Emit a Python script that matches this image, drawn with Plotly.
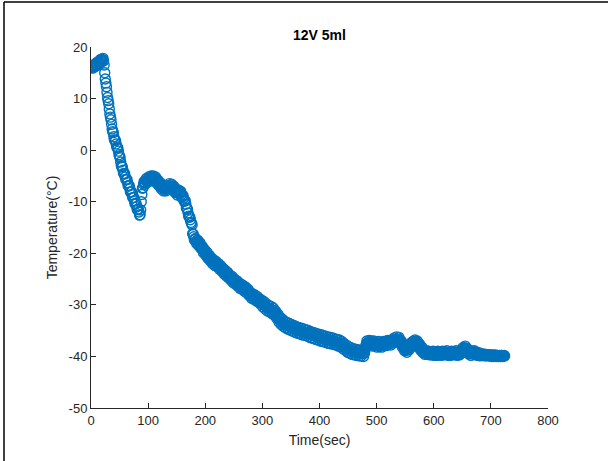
import plotly.graph_objects as go

# readings at even seconds
time_even = list(range(0, 726, 2))
temp_even = [
    # 0-22
    16.0, 16.2, 16.1, 16.4, 16.6, 16.5, 16.8, 17.0, 17.2, 17.4, 17.6, 17.3,
    # 24-86
    15.0, 13.0, 11.2, 9.6, 8.0, 6.4, 5.0, 3.6, 2.6, 1.9, 1.2, 0.5, -0.2, -1.2,
    -2.3, -3.2, -3.9, -4.6, -5.2, -5.7, -6.3, -6.9, -7.5, -8.1, -8.6, -9.2,
    -9.8, -10.4, -11.0, -11.5, -12.0, -12.5,
    # 88-176
    -10.0, -7.4, -6.6, -6.3, -6.0, -5.9, -5.7, -5.6, -5.5, -5.4, -5.5, -5.4,
    -5.6, -5.8, -6.1, -6.3, -6.6, -6.9, -7.1, -7.3, -7.5, -7.6, -7.4, -7.2,
    -7.0, -6.9, -7.1, -7.0, -7.3, -7.6, -7.9, -8.2, -8.3, -8.0, -8.2, -8.6,
    -9.0, -9.3, -9.8, -10.5, -11.3, -12.2, -12.9, -13.5, -14.2,
    # 178-208
    -16.2, -16.8, -17.3, -17.6, -17.8, -18.0, -18.3, -18.5, -18.9, -19.3,
    -19.6, -19.9, -20.1, -20.4, -20.7, -21.0,
    # 210-300
    -21.2, -21.4, -21.6, -21.8, -22.0, -22.1, -22.3, -22.5, -22.7, -22.9,
    -23.2, -23.4, -23.6, -23.8, -24.0, -24.2, -24.5, -24.6, -24.8, -25.1,
    -25.3, -25.5, -25.6, -25.8, -26.0, -26.2, -26.4, -26.5, -26.6, -26.8,
    -27.0, -27.1, -27.3, -27.6, -27.9, -28.1, -28.3, -28.4, -28.5, -28.6,
    -28.8, -28.9, -29.1, -29.3, -29.5, -29.7,
    # 302-400
    -29.9, -30.1, -30.3, -30.5, -30.6, -30.7, -30.8, -31.0, -31.1, -31.3,
    -31.6, -31.9, -32.2, -32.5, -32.8, -33.1, -33.3, -33.5, -33.7, -33.8,
    -33.9, -34.0, -34.1, -34.2, -34.3, -34.4, -34.5, -34.6, -34.7, -34.8,
    -34.9, -35.0, -35.0, -35.1, -35.2, -35.2, -35.3, -35.4, -35.4, -35.5,
    -35.6, -35.7, -35.8, -35.9, -35.9, -36.0, -36.1, -36.2, -36.2, -36.3,
    # 402-482
    -36.4, -36.4, -36.5, -36.6, -36.6, -36.7, -36.8, -36.8, -36.9, -36.9,
    -37.0, -37.0, -37.1, -37.2, -37.2, -37.3, -37.4, -37.4, -37.6, -37.8,
    -38.0, -38.1, -38.3, -38.5, -38.6, -38.7, -38.8, -38.9, -39.0, -39.1,
    -39.1, -39.2, -39.2, -39.3, -39.3, -39.3, -39.4, -39.4, -39.4, -38.5,
    -37.6,
    # 484-582
    -37.4, -37.3, -37.5, -37.3, -37.6, -37.5, -37.4, -37.6, -37.8, -37.6,
    -37.5, -37.7, -37.9, -37.6, -37.4, -37.5, -37.6, -37.4, -37.3, -37.2,
    -37.4, -37.3, -37.1, -36.9, -36.8, -36.7, -36.6, -36.7, -36.8, -37.2,
    -37.6, -38.0, -38.3, -38.6, -38.8, -38.7, -38.4, -38.1, -37.8, -37.6,
    -37.4, -37.2, -37.1, -37.3, -37.6, -37.9, -38.2, -38.5, -38.8, -39.0,
    # 584-682
    -39.2, -39.3, -39.2, -39.4, -39.3, -39.4, -39.5, -39.3, -39.4, -39.5,
    -39.6, -39.4, -39.3, -39.5, -39.6, -39.4, -39.3, -39.5, -39.4, -39.2,
    -39.4, -39.5, -39.6, -39.4, -39.3, -39.5, -39.4, -39.2, -39.3, -39.6,
    -39.5, -39.3, -39.1, -38.8, -38.5, -38.3, -38.4, -38.7, -39.0, -39.3,
    -39.5, -39.4, -39.3, -39.1, -39.3, -39.5, -39.6, -39.5, -39.6, -39.7,
    # 684-724
    -39.7, -39.6, -39.7, -39.8, -39.7, -39.8, -39.8, -39.7, -39.8, -39.8,
    -39.9, -39.8, -39.8, -39.9, -39.8, -39.9, -39.9, -39.8, -39.9, -39.9,
    -39.9,
]

# readings at odd seconds (the other side of the scatter band)
time_odd = list(range(1, 724, 2))
temp_odd = [
    # 1-23
    16.3, 15.9, 16.5, 16.2, 16.9, 16.4, 17.2, 16.8, 17.6, 17.2, 17.8, 16.5,
    # 25-93
    13.8, 12.3, 10.2, 9.0, 7.0, 5.9, 4.1, 3.4, 2.0, 1.8,
    0.6, 0.4, -0.9, -1.5, -3.0, -3.3, -4.5, -4.6, -5.7, -5.7,
    -6.9, -6.9, -8.1, -8.1, -9.2, -9.2, -10.4, -10.4, -11.5, -11.5,
    -12.6, -11.6, -8.6, -7.3, -6.1,
    # 95-177
    -6.6, -5.5, -6.2, -5.2, -6.0, -5.0, -5.9, -5.0, -5.9, -5.2,
    -6.4, -5.8, -6.9, -6.3, -7.5, -6.8, -7.9, -7.1, -7.9, -6.9,
    -7.5, -6.5, -7.4, -6.6, -7.6, -7.0, -8.2, -7.6, -8.7, -7.7,
    -8.5, -8.0, -9.2, -8.8, -9.9, -9.8, -11.2, -11.5, -12.8, -13.0,
    -14.0, -14.5,
    # 179-209
    -16.3, -17.4, -17.1, -18.1, -17.5, -18.6, -18.0, -19.1, -18.7, -19.9,
    -19.3, -20.4, -19.8, -21.0, -20.4, -21.5,
    # 211-299
    -20.9, -22.0, -21.3, -22.4, -21.6, -22.6, -22.0, -23.1, -22.4, -23.5,
    -22.9, -24.0, -23.3, -24.4, -23.7, -24.8, -24.2, -25.2, -24.5, -25.7,
    -25.0, -26.0, -25.3, -26.4, -25.7, -26.8, -26.0, -27.0, -26.3, -27.4,
    -26.6, -27.7, -27.0, -28.2, -27.6, -28.7, -27.9, -28.9, -28.1, -29.2,
    -28.4, -29.5, -28.8, -29.9, -29.1,
    # 301-399
    -30.4, -29.4, -30.8, -29.8, -31.2, -30.1, -31.4, -30.3, -31.7, -30.6,
    -32.0, -31.2, -32.6, -31.8, -33.3, -32.4, -33.8, -32.8, -34.2, -33.2,
    -34.5, -33.4, -34.7, -33.6, -34.9, -33.8, -35.1, -34.0, -35.3, -34.2,
    -35.5, -34.4, -35.6, -34.5, -35.8, -34.6, -35.9, -34.8, -36.0, -34.9,
    -36.2, -35.1, -36.4, -35.3, -36.5, -35.4, -36.7, -35.6, -36.8, -35.7,
    # 401-481
    -37.0, -35.8, -37.1, -36.0, -37.2, -36.1, -37.4, -36.2, -37.5, -36.3,
    -37.6, -36.4, -37.7, -36.6, -37.8, -36.7, -38.0, -36.8, -38.1, -37.1,
    -38.5, -37.5, -38.8, -37.8, -39.2, -38.1, -39.4, -38.3, -39.6, -38.5,
    -39.7, -38.6, -39.8, -38.7, -39.9, -38.8, -39.9, -38.9, -40.0, -39.3,
    -38.0,
    # 483-581
    -37.0, -37.8, -36.9, -37.8, -37.0, -38.0, -37.0, -37.9, -37.3, -38.2,
    -37.1, -38.1, -37.4, -38.2, -37.1, -37.9, -37.1, -37.9, -36.9, -37.7,
    -36.9, -37.8, -36.8, -37.4, -36.4, -37.2, -36.2, -37.1, -36.3, -37.4,
    -37.0, -38.2, -37.8, -38.9, -38.3, -39.2, -38.1, -38.7, -37.5, -38.1,
    -37.1, -37.7, -36.8, -37.6, -37.0, -38.2, -37.6, -38.8, -38.2, -39.3,
    # 583-681
    -38.8, -39.6, -38.9, -39.6, -39.0, -39.7, -39.1, -39.7, -39.0, -39.8,
    -39.2, -39.8, -39.0, -39.7, -39.2, -39.8, -39.0, -39.7, -39.1, -39.6,
    -38.9, -39.8, -39.2, -39.8, -39.0, -39.7, -39.1, -39.6, -38.9, -39.8,
    -39.2, -39.7, -38.9, -39.3, -38.3, -38.7, -38.0, -38.9, -38.5, -39.5,
    -39.0, -39.8, -39.0, -39.5, -38.9, -39.7, -39.2, -39.8, -39.3, -39.9,
    # 683-723
    -39.5, -39.8, -39.5, -39.9, -39.6, -39.9, -39.7, -39.9, -39.7, -40.0,
    -39.7, -40.0, -39.7, -40.0, -39.8, -40.0, -39.8, -40.0, -39.8, -40.0,
    -39.8,
]

x_ticks = [0, 100, 200, 300, 400, 500, 600, 700, 800]
y_ticks = [-50, -40, -30, -20, -10, 0, 10, 20]

BLUE = "#0072BD"
AX = "#262626"
FONT = "Liberation Sans, Arial, Helvetica, sans-serif"

ne = min(len(time_even), len(temp_even))
no = min(len(time_odd), len(temp_odd))
xs = time_even[:ne] + time_odd[:no]
ys = temp_even[:ne] + temp_odd[:no]

fig = go.Figure()
fig.add_trace(go.Scatter(
    x=xs, y=ys, mode="markers",
    marker=dict(symbol="circle-open", size=10, color=BLUE, line=dict(width=1.4, color=BLUE)),
    showlegend=False,
))

L, R, T, B = 91, 60, 47, 53
W, H = 608, 461
pw, ph = W - L - R, H - T - B

fig.update_layout(
    width=W, height=H,
    margin=dict(l=L, r=R, t=T, b=B),
    paper_bgcolor="white", plot_bgcolor="white",
    font=dict(family=FONT, size=13, color=AX),
    title=dict(text="<b>12V 5ml</b>", x=(L + pw / 2) / W, xanchor="center",
               y=1 - 35 / H, yanchor="middle", font=dict(size=14, color="black")),
    xaxis=dict(range=[0, 800], tickvals=x_ticks, ticktext=[str(v) for v in x_ticks],
               ticks="inside", ticklen=5,
               tickcolor=AX, showline=True, linecolor=AX, linewidth=1,
               showgrid=False, zeroline=False, mirror=False,
               title=dict(text="Time(sec)", font=dict(size=14, color=AX), standoff=8)),
    yaxis=dict(range=[-50, 20], tickvals=y_ticks, ticktext=[str(v) for v in y_ticks],
               ticks="inside", ticklen=5,
               tickcolor=AX, showline=True, linecolor=AX, linewidth=1,
               showgrid=False, zeroline=False, mirror=False,
               title=dict(text="Temperature(°C)", font=dict(size=14, color=AX), standoff=7)),
)

# figure frame (top and left edges)
x_left = (4 - L) / pw
y_top = (H - B - 2) / ph
y_bot = (H - B - H) / ph
x_right = (W - L) / pw
fig.add_shape(type="line", xref="paper", yref="paper", x0=x_left, x1=x_right,
              y0=y_top, y1=y_top, line=dict(color="black", width=1.5))
fig.add_shape(type="line", xref="paper", yref="paper", x0=x_left, x1=x_left,
              y0=y_bot, y1=y_top, line=dict(color="black", width=1.5))

fig.write_html("out.html")
